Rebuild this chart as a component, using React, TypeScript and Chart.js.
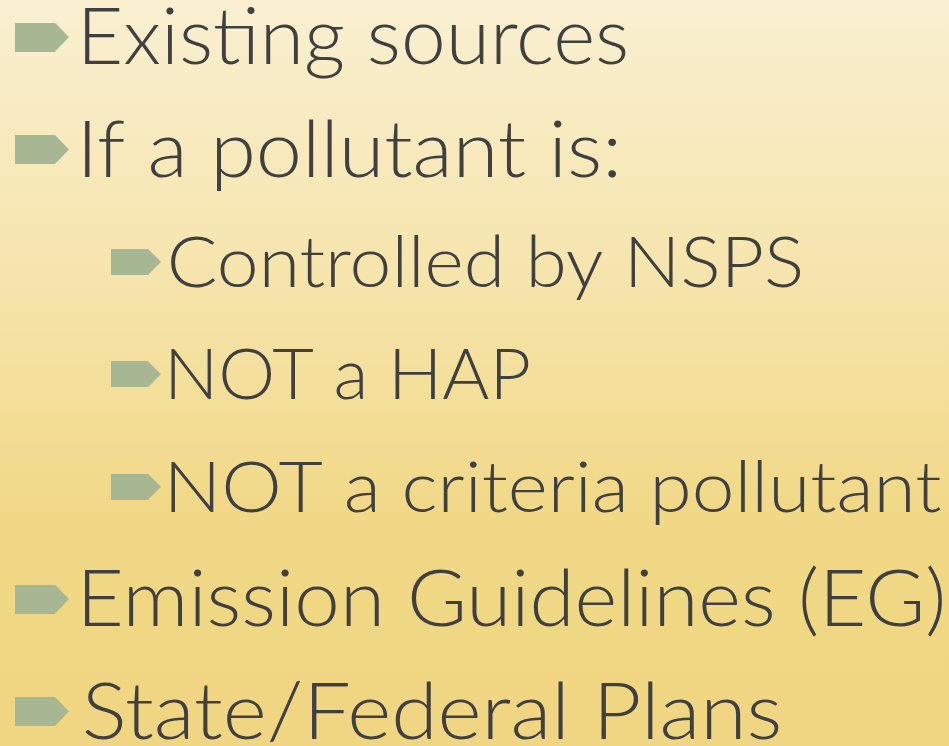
import React, { useEffect, useRef } from "react";
import { Chart, registerables } from "chart.js";

Chart.register(...registerables);

// ---- data ----
const BULLET_TEXTS = [
  "Existing sources",
  "If a pollutant is:",
  "Controlled by NSPS",
  "NOT a HAP",
  "NOT a criteria pollutant",
  "Emission Guidelines (EG)",
  "State/Federal Plans",
];
const BULLET_LEVELS = [0, 0, 1, 1, 1, 0, 0];
const LINE_ORDER = [0, 1, 2, 3, 4, 5, 6];

// ---- layout / style (not data) ----
const W = 949;
const H = 746;
const TEXT_COLOR = "#404040";
const BULLET_COLOR = "#A7B693";
const FONT_FAMILY = "Lato, 'Open Sans', 'DejaVu Sans', sans-serif";
const FONT_WEIGHT = 300;
const FONT_SIZE_BY_LEVEL = [78, 71];
const TEXT_DX_BY_LEVEL = [43, 35];
const TEXT_DY_BY_LEVEL = [27, 25];
const BULLET_SIZE_BY_LEVEL = [
  { w: 54, h: 29, rect: 40 },
  { w: 50, h: 26, rect: 37 },
];
const INK_WIDTH_PX = [541, 531, 630, 358, 770, 857, 694];

function makeBullet(w: number, h: number, rect: number): HTMLCanvasElement {
  const c = document.createElement("canvas");
  c.width = w;
  c.height = h;
  const g = c.getContext("2d")!;
  g.fillStyle = BULLET_COLOR;
  g.beginPath();
  g.moveTo(0, 0);
  g.lineTo(rect, 0);
  g.lineTo(w, h / 2);
  g.lineTo(rect, h);
  g.lineTo(0, h);
  g.closePath();
  g.fill();
  return c;
}

const backgroundPlugin = {
  id: "slideBackground",
  beforeDraw(chart: any) {
    const { ctx } = chart;
    const grad = ctx.createLinearGradient(0, 0, 0, chart.height);
    grad.addColorStop(0, "#FAF0D1");
    grad.addColorStop(0.35, "#F6E5AE");
    grad.addColorStop(0.7, "#F1D886");
    grad.addColorStop(1, "#F0D682");
    ctx.save();
    ctx.fillStyle = grad;
    ctx.fillRect(0, 0, chart.width, chart.height);
    ctx.restore();
  },
};

const textPlugin = {
  id: "bulletText",
  afterDatasetsDraw(chart: any) {
    const { ctx } = chart;
    const meta = chart.getDatasetMeta(0);
    meta.data.forEach((pt: any, i: number) => {
      const level = BULLET_LEVELS[i];
      const text = BULLET_TEXTS[i];
      ctx.save();
      ctx.font = `${FONT_WEIGHT} ${FONT_SIZE_BY_LEVEL[level]}px ${FONT_FAMILY}`;
      ctx.fillStyle = TEXT_COLOR;
      ctx.textAlign = "left";
      ctx.textBaseline = "alphabetic";
      const m = ctx.measureText(text);
      const inkW = m.actualBoundingBoxLeft + m.actualBoundingBoxRight;
      const sx = INK_WIDTH_PX[i] / inkW;
      ctx.translate(pt.x + TEXT_DX_BY_LEVEL[level], pt.y + TEXT_DY_BY_LEVEL[level]);
      ctx.scale(sx, 1);
      ctx.fillText(text, m.actualBoundingBoxLeft, 0);
      ctx.restore();
    });
  },
};

export default function App() {
  const ref = useRef<HTMLCanvasElement | null>(null);

  useEffect(() => {
    if (!ref.current) return;
    const bullets = BULLET_SIZE_BY_LEVEL.map((b) => makeBullet(b.w, b.h, b.rect));
    const points = LINE_ORDER.map((idx, i) => ({ x: BULLET_LEVELS[i], y: idx }));

    // level -> pixel: 42 + 94*level ; line -> pixel: 37.1 + 112.4*line
    const xMin = -42 / 94;
    const xMax = xMin + W / 94;
    const yMin = -37.1 / 112.4;
    const yMax = yMin + H / 112.4;

    const chart = new Chart(ref.current, {
      type: "scatter",
      data: {
        datasets: [
          {
            data: points,
            pointStyle: (c: any) => bullets[BULLET_LEVELS[c.dataIndex] ?? 0],
            pointRadius: 14,
            showLine: false,
            clip: false as any,
          },
        ],
      },
      options: {
        responsive: false,
        animation: false,
        layout: { padding: 0, autoPadding: false },
        plugins: {
          legend: { display: false },
          tooltip: { enabled: false },
        },
        events: [],
        scales: {
          x: { type: "linear", min: xMin, max: xMax, display: false },
          y: { type: "linear", min: yMin, max: yMax, reverse: true, display: false },
        },
      },
      plugins: [backgroundPlugin, textPlugin],
    } as any);

    return () => chart.destroy();
  }, []);

  return (
    <div style={{ position: "absolute", left: 0, top: 0, width: W, height: H }}>
      <canvas ref={ref} width={W} height={H} style={{ display: "block", width: W, height: H }} />
    </div>
  );
}
